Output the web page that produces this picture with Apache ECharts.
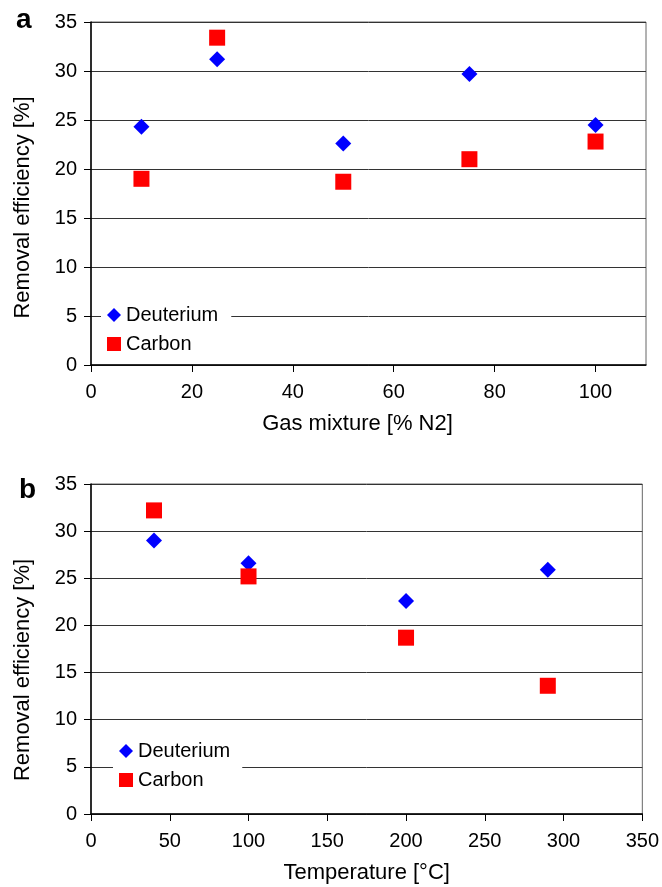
<!DOCTYPE html>
<html>
<head>
<meta charset="utf-8">
<script src="https://cdn.jsdelivr.net/npm/echarts@6/dist/echarts.min.js"></script>
<style>
  html, body { margin: 0; padding: 0; background: #fff; }
  #main { width: 662px; height: 887px; }
</style>
</head>
<body>
<div id="main"></div>
<script>
// panel a: gas mixture
var gasMix = [10, 25, 50, 75, 100];
var gasDeuterium = [24.3, 31.2, 22.6, 29.7, 24.5];
var gasCarbon = [19.0, 33.4, 18.7, 21.0, 22.8];
var gasTicks = [0, 20, 40, 60, 80, 100];

// panel b: temperature
var temps = [40, 100, 200, 290];
var tempDeuterium = [29.0, 26.6, 22.6, 25.9];
var tempCarbon = [32.2, 25.2, 18.7, 13.6];
var tempTicks = [0, 50, 100, 150, 200, 250, 300, 350];

var yTicks = [0, 5, 10, 15, 20, 25, 30, 35];

function pairs(xs, ys) {
    return xs.map(function (x, i) { return [x, ys[i]]; });
}

var font = 'Liberation Sans, Arial, sans-serif';
var chart = echarts.init(document.getElementById('main'));

function xAxisOf(idx, name, max, ticks, namePad) {
    return {
        type: 'value', gridIndex: idx, min: 0, max: max,
        name: name, nameLocation: 'middle', nameGap: 48,
        nameTextStyle: { fontSize: 22, color: '#000', fontFamily: font, padding: namePad },
        axisLine: { onZero: false, lineStyle: { color: '#000', width: 1.5 } },
        axisTick: { show: true, inside: false, length: 7, customValues: ticks, lineStyle: { color: '#000' } },
        axisLabel: { fontSize: 20, color: '#000', fontFamily: font, margin: 17, customValues: ticks },
        splitLine: { show: false }
    };
}

function yAxisOf(idx, namePad) {
    return {
        type: 'value', gridIndex: idx, min: yTicks[0], max: yTicks[yTicks.length - 1], interval: 5,
        name: 'Removal efficiency [%]', nameLocation: 'middle', nameGap: 57,
        nameTextStyle: { fontSize: 22, color: '#000', fontFamily: font, padding: namePad },
        axisLine: { show: true, lineStyle: { color: '#000', width: 1.5 } },
        axisTick: { show: true, inside: false, length: 7, lineStyle: { color: '#000' } },
        axisLabel: { fontSize: 20, color: '#000', fontFamily: font, margin: 14 },
        splitLine: { show: true, lineStyle: { color: '#333', width: 1 } }
    };
}

function legendAt(left, top, padRight) {
    return {
        left: left, top: top, orient: 'vertical', itemGap: 7,
        itemWidth: 14, itemHeight: 14, backgroundColor: '#fff',
        padding: [4, padRight, 4, 6],
        textStyle: { fontSize: 20, lineHeight: 22, color: '#000', fontFamily: font },
        selectedMode: false,
        data: [{ name: 'Deuterium', icon: 'diamond' }, { name: 'Carbon', icon: 'rect' }]
    };
}

var option = {
    backgroundColor: '#fff',
    animation: false,
    title: [
        { text: 'a', left: 16, top: 6, padding: 0, textStyle: { fontSize: 28, fontWeight: 'bold', color: '#000', fontFamily: font } },
        { text: 'b', left: 19, top: 476, padding: 0, textStyle: { fontSize: 28, fontWeight: 'bold', color: '#000', fontFamily: font } }
    ],
    grid: [
        { left: 91, top: 22, width: 555, height: 343, show: true, borderColor: '#666', borderWidth: 1 },
        { left: 91, top: 484, width: 554, height: 330, show: true, borderColor: '#666', borderWidth: 1 }
    ],
    legend: [legendAt(101, 300, 13), legendAt(113, 736, 12)],
    xAxis: [
        xAxisOf(0, 'Gas mixture [% N2]', 110, gasTicks, [0, 22, 0, 0]),
        xAxisOf(1, 'Temperature [\u00b0C]', 350, tempTicks, 0)
    ],
    yAxis: [yAxisOf(0, [0, 28, 0, 0]), yAxisOf(1, [0, 42, 0, 0])],
    series: [
        { name: 'Deuterium', type: 'scatter', xAxisIndex: 0, yAxisIndex: 0, symbol: 'diamond', symbolSize: 16,
          itemStyle: { color: '#0000ff', opacity: 1 }, data: pairs(gasMix, gasDeuterium) },
        { name: 'Carbon', type: 'scatter', xAxisIndex: 0, yAxisIndex: 0, symbol: 'rect', symbolSize: 16,
          itemStyle: { color: '#ff0000', opacity: 1 }, data: pairs(gasMix, gasCarbon) },
        { name: 'Deuterium', type: 'scatter', xAxisIndex: 1, yAxisIndex: 1, symbol: 'diamond', symbolSize: 16,
          itemStyle: { color: '#0000ff', opacity: 1 }, data: pairs(temps, tempDeuterium) },
        { name: 'Carbon', type: 'scatter', xAxisIndex: 1, yAxisIndex: 1, symbol: 'rect', symbolSize: 16,
          itemStyle: { color: '#ff0000', opacity: 1 }, data: pairs(temps, tempCarbon) }
    ]
};

chart.setOption(option);
</script>
</body>
</html>
